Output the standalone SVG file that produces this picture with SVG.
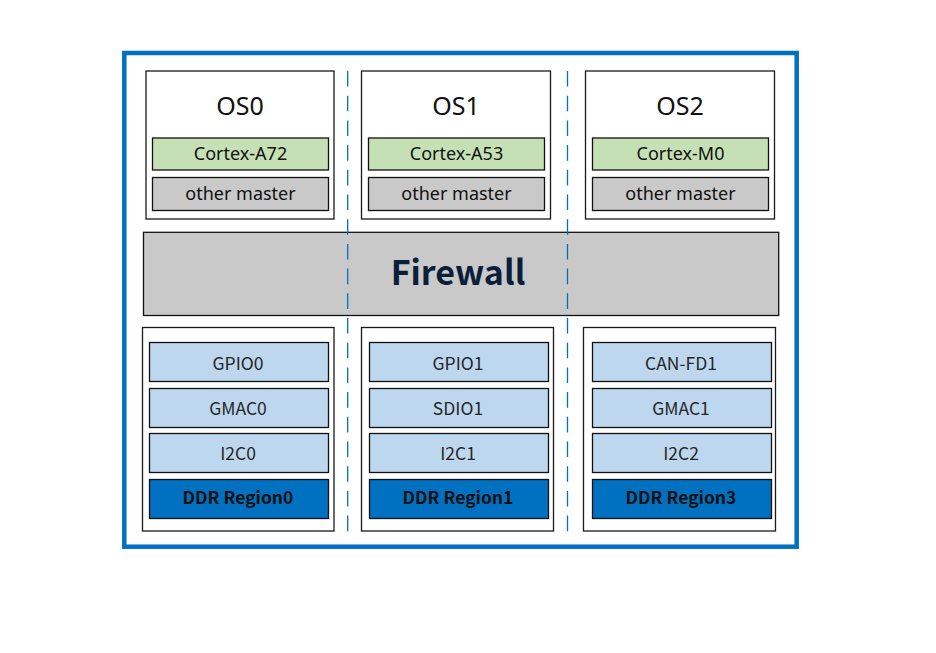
<svg xmlns="http://www.w3.org/2000/svg" width="936" height="653" viewBox="0 0 936 653">
<style>
.box{fill:#ffffff;stroke:#1a1a1a;stroke-width:1.3}
.core{fill:#C5E0B4;stroke:#111;stroke-width:1.3}
.mst{fill:#C9C9C9;stroke:#111;stroke-width:1.3}
.per{fill:#BDD7EE;stroke:#111;stroke-width:1.3}
.ddr{fill:#0070C0;stroke:#111;stroke-width:1.3}
.os{font-family:"Noto Sans","DejaVu Sans",sans-serif;font-size:25px;fill:#111;text-anchor:middle}
.t{font-family:"Noto Sans","DejaVu Sans",sans-serif;font-size:18px;fill:#111;text-anchor:middle}
.p{font-family:"Noto Sans CJK SC","Noto Sans",sans-serif;font-size:17.5px;fill:#262626;text-anchor:middle}
.d{font-family:"Noto Sans CJK SC","Noto Sans",sans-serif;font-size:17.5px;font-weight:bold;fill:#111;text-anchor:middle}
.dash{stroke:#0070C0;stroke-width:1.3;stroke-dasharray:15.6 9.1;fill:none}
</style>
<rect x="124.3" y="53" width="672.4" height="493.7" fill="#ffffff" stroke="#0070C0" stroke-width="4.5"/>

<g id="os0">
<rect class="box" x="146" y="71" width="188" height="148"/>
<text class="os" x="240" y="115">OS0</text>
<rect class="core" x="152.5" y="138" width="176" height="32"/>
<text class="t" x="240.5" y="160">Cortex-A72</text>
<rect class="mst" x="152.5" y="177.5" width="176" height="33"/>
<text class="t" x="240.5" y="200">other master</text>
</g>
<g id="os1">
<rect class="box" x="361.5" y="71" width="189" height="148"/>
<text class="os" x="456" y="115">OS1</text>
<rect class="core" x="368.5" y="138" width="176" height="32"/>
<text class="t" x="456.5" y="160">Cortex-A53</text>
<rect class="mst" x="368.5" y="177.5" width="176" height="33"/>
<text class="t" x="456.5" y="200">other master</text>
</g>
<g id="os2">
<rect class="box" x="585.5" y="71" width="189" height="148"/>
<text class="os" x="680" y="115">OS2</text>
<rect class="core" x="592.5" y="138" width="176" height="32"/>
<text class="t" x="680.5" y="160">Cortex-M0</text>
<rect class="mst" x="592.5" y="177.5" width="176" height="33"/>
<text class="t" x="680.5" y="200">other master</text>
</g>

<g id="firewall">
<rect x="143.5" y="232.3" width="635.2" height="83.2" fill="#C9C9C9" stroke="#111" stroke-width="1.3"/>
<text x="458" y="285" font-family="'Noto Sans CJK SC','Noto Sans',sans-serif" font-size="34" font-weight="bold" fill="#0B1F3A" text-anchor="middle">Firewall</text>
</g>

<g id="res0">
<rect class="box" x="142.5" y="327.5" width="191.5" height="203.5"/>
<rect class="per" x="149.5" y="342.5" width="179" height="39"/>
<text class="p" x="238" y="369.5">GPIO0</text>
<rect class="per" x="149.5" y="388.5" width="179" height="39"/>
<text class="p" x="238" y="415">GMAC0</text>
<rect class="per" x="149.5" y="433.5" width="179" height="39"/>
<text class="p" x="238" y="460">I2C0</text>
<rect class="ddr" x="149.5" y="479.5" width="179" height="39"/>
<text class="d" x="238" y="504">DDR Region0</text>
</g>
<g id="res1">
<rect class="box" x="361.5" y="327.5" width="192" height="203.5"/>
<rect class="per" x="369.5" y="342.5" width="179" height="39"/>
<text class="p" x="458" y="369.5">GPIO1</text>
<rect class="per" x="369.5" y="388.5" width="179" height="39"/>
<text class="p" x="458" y="415">SDIO1</text>
<rect class="per" x="369.5" y="433.5" width="179" height="39"/>
<text class="p" x="458" y="460">I2C1</text>
<rect class="ddr" x="369.5" y="479.5" width="179" height="39"/>
<text class="d" x="458" y="504">DDR Region1</text>
</g>
<g id="res2">
<rect class="box" x="583.5" y="327.5" width="192" height="203.5"/>
<rect class="per" x="592.5" y="342.5" width="179" height="39"/>
<text class="p" x="681" y="369.5">CAN-FD1</text>
<rect class="per" x="592.5" y="388.5" width="179" height="39"/>
<text class="p" x="681" y="415">GMAC1</text>
<rect class="per" x="592.5" y="433.5" width="179" height="39"/>
<text class="p" x="681" y="460">I2C2</text>
<rect class="ddr" x="592.5" y="479.5" width="179" height="39"/>
<text class="d" x="681" y="504">DDR Region3</text>
</g>

<g id="connectors">
<line class="dash" x1="347.7" y1="71" x2="347.7" y2="532"/>
<line class="dash" x1="567.5" y1="71" x2="567.5" y2="532"/>
</g>
</svg>
